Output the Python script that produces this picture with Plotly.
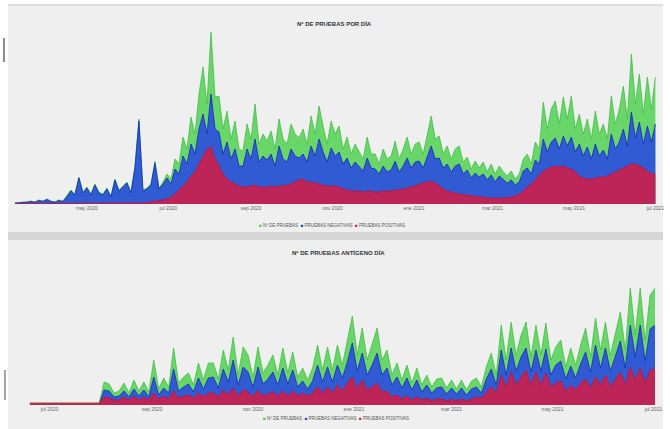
import pandas as pd
import plotly.graph_objects as go

# ---------------- DATA (in thousands) ----------------
TOP_START = "2020-03-08"
BOT_START = "2020-06-19"
STEP_DAYS = 3

TOP_TOTAL = [1, 1, 2, 2, 3, 2, 4, 3, 5, 3, 2, 4, 3, 8,
             14, 10, 27, 12, 17, 10, 20, 12, 10, 16, 8, 25, 14, 18, 22, 12, 38, 85,
             14, 16, 20, 43, 16, 22, 30, 25, 45, 40, 67, 55, 87, 70, 110, 137, 100, 172,
             107, 108, 75, 93, 65, 83, 55, 53, 80, 65, 100, 60, 70, 63, 73, 55, 85, 65, 60, 80,
             70, 66, 75, 60, 88, 70, 98, 78, 60, 83, 70, 78, 55, 67, 50, 60, 53, 45, 67, 50,
             50, 40, 55, 45, 48, 63, 45, 55, 67, 50, 60, 62, 50, 70, 88, 65, 68, 50, 58, 45,
             55, 58, 42, 47, 35, 43, 36, 42, 32, 40, 30, 38, 32, 28, 33, 25, 30, 45, 50, 40,
             62, 55, 102, 75, 95, 103, 80, 107, 85, 108, 75, 90, 70, 85, 65, 93, 70, 80, 65, 108,
             80, 95, 118, 85, 150, 100, 130, 90, 127, 95, 127]

TOP_NEG = [1, 1, 1.5, 1.8, 2.5, 1.8, 3.5, 2.5, 4.5, 2.5, 1.8, 3.5, 2.5, 7,
           13, 9, 26, 11, 16, 9, 19, 11, 9, 15, 7, 24, 13, 17, 21, 11, 36, 83,
           13, 15, 19, 41, 15, 20, 26, 20, 35, 30, 48, 40, 60, 50, 75, 90, 70, 110,
           75, 72, 50, 62, 45, 55, 38, 38, 55, 45, 65, 42, 48, 44, 50, 38, 58, 45, 42, 55,
           48, 46, 50, 42, 58, 48, 65, 52, 42, 56, 48, 52, 40, 46, 36, 42, 38, 33, 46, 36,
           35, 30, 38, 32, 34, 43, 32, 38, 46, 36, 42, 43, 36, 48, 58, 45, 46, 36, 40, 32,
           38, 40, 30, 34, 26, 31, 27, 30, 24, 29, 22, 28, 24, 21, 24, 19, 22, 33, 36, 30,
           44, 40, 65, 52, 62, 66, 55, 68, 58, 67, 52, 60, 48, 57, 45, 60, 48, 54, 45, 70,
           55, 62, 75, 58, 92, 66, 82, 60, 78, 62, 80]

TOP_POS = [0.3, 0.3, 0.4, 0.4, 0.5, 0.4, 0.5, 0.5, 0.5, 0.4, 0.3, 0.3, 0.3, 0.3,
           0.3, 0.3, 0.4, 0.4, 0.4, 0.4, 0.5, 0.5, 0.5, 0.5, 0.5, 0.5, 0.6, 0.6, 0.6, 0.7, 0.8, 1,
           1, 1.5, 2, 2.5, 3, 4, 5, 7, 10, 14, 18, 22, 28, 32, 40, 48, 55, 57,
           45, 38, 30, 25, 22, 20, 18, 17, 17, 18, 19, 17, 17, 17, 18, 17, 18, 18, 19, 20,
           22, 24, 25, 22, 22, 21, 20, 19, 18, 18, 18, 17, 15, 14, 13, 13, 13, 12, 13, 13,
           12, 12, 13, 13, 13, 14, 14, 15, 16, 17, 18, 20, 21, 22, 23, 21, 18, 15, 13, 12,
           11, 10, 9, 9, 8, 8, 7, 7, 6, 6, 6, 6, 6, 6, 7, 8, 10, 13, 17, 20,
           24, 28, 33, 35, 37, 38, 37, 38, 36, 35, 32, 28, 26, 25, 25, 26, 27, 27, 28, 30,
           32, 34, 36, 38, 40, 40, 38, 36, 33, 30, 30]

BOT_TOTAL = [2, 2, 2.2, 2, 2, 2.1, 2, 2, 2, 2.2, 2, 2, 2.1, 2, 2,
             23, 21, 12, 14, 22, 12, 25, 14, 23, 13, 45, 16, 27, 18, 57, 22, 28, 32, 20, 42,
             25, 42, 42, 26, 55, 35, 68, 30, 58, 50, 28, 58, 32, 40, 50, 30, 57, 32, 53, 28,
             37, 25, 37, 60, 35, 58, 35, 60, 40, 65, 89, 50, 77, 45, 60, 77, 45, 55, 30, 42,
             25, 40, 22, 37, 20, 30, 18, 26, 27, 17, 25, 16, 25, 15, 24, 27, 18, 38, 52, 30,
             80, 45, 83, 50, 70, 83, 48, 80, 50, 82, 45, 58, 65, 38, 57, 40, 60, 77, 48, 87,
             55, 83, 50, 70, 93, 55, 117, 70, 117, 65, 110, 117]

BOT_NEG = [0.3, 0.3, 0.3, 0.3, 0.3, 0.3, 0.3, 0.3, 0.3, 0.3, 0.3, 0.3, 0.3, 0.3, 0.3,
           15, 14, 8, 9, 14, 8, 16, 9, 15, 8, 28, 10, 17, 12, 36, 14, 18, 21, 13, 27,
           16, 27, 28, 17, 36, 23, 45, 20, 38, 33, 18, 38, 21, 26, 33, 20, 37, 21, 35, 18,
           24, 16, 24, 40, 23, 38, 23, 40, 27, 43, 62, 34, 52, 30, 40, 52, 30, 37, 20, 28,
           17, 27, 15, 25, 13, 20, 12, 17, 18, 11, 17, 11, 17, 10, 16, 18, 12, 26, 36, 20,
           55, 30, 57, 34, 48, 57, 33, 55, 34, 56, 30, 40, 44, 26, 39, 27, 41, 53, 33, 60,
           37, 57, 34, 48, 64, 37, 80, 48, 80, 44, 76, 80]

BOT_POS = [1.8, 1.8, 2, 1.8, 1.8, 1.9, 1.8, 1.8, 1.8, 2, 1.8, 1.8, 1.9, 1.8, 1.8,
           8, 7, 5, 5, 8, 5, 9, 5, 8, 5, 12, 6, 9, 6, 14, 7, 9, 10, 7, 12,
           8, 12, 12, 8, 15, 10, 17, 9, 15, 13, 8, 15, 9, 11, 13, 9, 14, 9, 14, 9,
           12, 9, 12, 18, 12, 18, 12, 20, 14, 22, 28, 16, 25, 15, 18, 22, 13, 14, 8, 10,
           6, 9, 5, 8, 5, 7, 4, 6, 6, 4, 6, 4, 6, 4, 6, 8, 7, 12, 18, 12,
           30, 18, 33, 20, 28, 35, 20, 33, 20, 32, 18, 22, 24, 14, 20, 15, 22, 26, 17, 28,
           20, 30, 18, 25, 33, 20, 38, 25, 37, 22, 35, 36]

SERIES_NAMES = ["Nº DE PRUEBAS", "PRUEBAS NEGATIVAS", "PRUEBAS POSITIVAS"]
TITLES = ["Nº DE PRUEBAS POR DÍA", "Nº DE PRUEBAS ANTÍGENO DÍA"]

TOP_TICKVALS = ["2020-05-01", "2020-07-01", "2020-09-01", "2020-11-01",
                "2021-01-01", "2021-03-01", "2021-05-01", "2021-07-01"]
TOP_TICKTEXT = ["may 2020", "jul 2020", "sep 2020", "nov 2020",
                "ene 2021", "mar 2021", "may 2021", "jul 2021"]
BOT_TICKVALS = ["2020-07-01", "2020-09-01", "2020-11-01", "2021-01-01",
                "2021-03-01", "2021-05-01", "2021-07-01"]
BOT_TICKTEXT = ["jul 2020", "sep 2020", "nov 2020", "ene 2021",
                "mar 2021", "may 2021", "jul 2021"]

# ---------------- STYLE ----------------
FILLS = ["rgb(104,214,104)", "rgba(45,80,220,0.92)", "rgba(214,28,66,0.85)"]
LINES = ["rgb(70,190,70)", "rgb(20,40,190)", "rgb(190,20,60)"]
KEY_COLORS = ["rgb(80,200,80)", "rgb(30,60,200)", "rgb(200,30,70)"]
FONT = "Liberation Sans, Arial, sans-serif"
PANEL = "#efefef"

top_dates = pd.date_range(TOP_START, periods=len(TOP_TOTAL), freq=f"{STEP_DAYS}D")
bot_dates = pd.date_range(BOT_START, periods=len(BOT_TOTAL), freq=f"{STEP_DAYS}D")

fig = go.Figure()

for name, vals, fc, lc in zip(SERIES_NAMES, [TOP_TOTAL, TOP_NEG, TOP_POS], FILLS, LINES):
    fig.add_trace(go.Scatter(x=top_dates, y=vals, name=name, mode="lines",
                             fill="tozeroy", fillcolor=fc, showlegend=False,
                             line=dict(color=lc, width=0.8),
                             xaxis="x", yaxis="y"))

for name, vals, fc, lc in zip(SERIES_NAMES, [BOT_TOTAL, BOT_NEG, BOT_POS], FILLS, LINES):
    fig.add_trace(go.Scatter(x=bot_dates, y=vals, name=name, mode="lines",
                             fill="tozeroy", fillcolor=fc, showlegend=False,
                             line=dict(color=lc, width=0.8),
                             xaxis="x2", yaxis="y2"))

H = 429.0
def py(px):
    return 1 - px / H

xcommon = dict(type="date", showgrid=False, zeroline=False, showline=False, ticks="",
               tickfont=dict(size=5, color="#666", family=FONT))

key_text = "  ".join(
    f"<span style='color:{c}'>■</span> {n}" for n, c in zip(SERIES_NAMES, KEY_COLORS)
)

fig.update_layout(
    width=670, height=429,
    margin=dict(l=0, r=0, t=0, b=0),
    paper_bgcolor="white",
    plot_bgcolor="rgba(0,0,0,0)",
    font=dict(family=FONT),
    xaxis=dict(domain=[15 / 670, 665 / 670], range=["2020-03-08", "2021-07-03"],
               tickvals=TOP_TICKVALS, ticktext=TOP_TICKTEXT, anchor="y", **xcommon),
    yaxis=dict(domain=[py(204), py(30)], range=[0, 174], visible=False, anchor="x"),
    xaxis2=dict(domain=[30 / 670, 662 / 670], range=["2020-06-19", "2021-07-02"],
                tickvals=BOT_TICKVALS, ticktext=BOT_TICKTEXT, anchor="y2", **xcommon),
    yaxis2=dict(domain=[py(405), py(285)], range=[0, 120], visible=False, anchor="x2"),
    shapes=[
        dict(type="rect", xref="paper", yref="paper", x0=8 / 670, x1=1, y0=py(232), y1=py(4),
             fillcolor=PANEL, line=dict(width=0), layer="below"),
        dict(type="rect", xref="paper", yref="paper", x0=8 / 670, x1=1, y0=py(240), y1=py(232),
             fillcolor="#d6d6d6", line=dict(width=0), layer="below"),
        dict(type="rect", xref="paper", yref="paper", x0=8 / 670, x1=1, y0=0, y1=py(240),
             fillcolor=PANEL, line=dict(width=0), layer="below"),
        dict(type="rect", xref="paper", yref="paper", x0=8 / 670, x1=1, y0=py(6), y1=py(4),
             fillcolor="#dddddd", line=dict(width=0), layer="below"),
        dict(type="line", xref="paper", yref="paper", x0=4 / 670, x1=4 / 670,
             y0=py(62), y1=py(38), line=dict(color="#666", width=1.5)),
        dict(type="line", xref="paper", yref="paper", x0=5 / 670, x1=5 / 670,
             y0=py(400), y1=py(370), line=dict(color="#888", width=1.5)),
    ],
    annotations=[
        dict(text="<b>" + TITLES[0] + "</b>", xref="paper", yref="paper", x=338 / 670, y=py(18),
             showarrow=False, font=dict(size=6, color="#333", family=FONT)),
        dict(text="<b>" + TITLES[1] + "</b>", xref="paper", yref="paper", x=342 / 670, y=py(252),
             showarrow=False, font=dict(size=6, color="#333", family=FONT)),
        dict(text=key_text, xref="paper", yref="paper", x=336 / 670, y=py(225),
             showarrow=False, font=dict(size=4.5, color="#555", family=FONT)),
        dict(text=key_text, xref="paper", yref="paper", x=340 / 670, y=py(423),
             showarrow=False, font=dict(size=4.5, color="#555", family=FONT)),
    ],
)

POST = (
    "var h=document.documentElement,b=document.body;"
    "h.style.margin='0';h.style.padding='0';h.style.overflow='hidden';h.style.height='429px';"
    "h.style.background='" + PANEL + "';"
    "b.style.margin='0';b.style.padding='0';b.style.overflow='hidden';b.style.height='429px';"
    "b.style.background='" + PANEL + "';b.style.lineHeight='0';"
    "var g=document.getElementsByClassName('plotly-graph-div');"
    "for(var i=0;i<g.length;i++){g[i].style.display='block';"
    "if(g[i].parentNode){g[i].parentNode.style.height='429px';g[i].parentNode.style.overflow='hidden';}}"
)

fig.write_html("out.html", config={"displayModeBar": False}, post_script=POST)
